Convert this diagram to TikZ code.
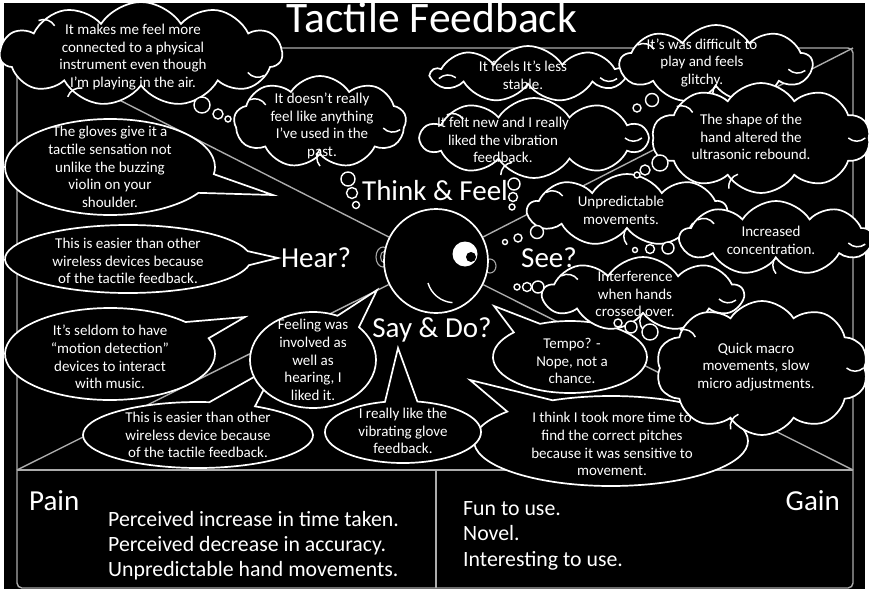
\documentclass[tikz,border=0pt]{standalone}
\usepackage{fontspec}
\setmainfont{Carlito}
\usetikzlibrary{shapes.symbols,shapes.callouts,shapes.geometric,calc}

% short inner curl between two neighbouring puffs of a cloud node
\newcommand\curl[3]{%
  \draw[curlline] ($(#1.puff #2)!0.5!(#1.puff #3)$) to[bend left=40]
    ($($(#1.puff #2)!0.5!(#1.puff #3)$)!17pt!(#1.center)$);}

\begin{document}
\begin{tikzpicture}[x=1pt,y=-1pt,
  frameline/.style={draw=gray!65!white, line width=1.4pt},
  cloudbox/.style={cloud, cloud puffs=#1, cloud puff arc=115, cloud ignores aspect,
    draw=white, fill=black, line width=1.7pt, inner sep=0pt},
  curlline/.style={draw=white, line width=1.5pt},
  talkbox/.style={ellipse callout, callout pointer arc=24, draw=white, fill=black,
    line width=1.7pt, inner sep=0pt},
  puff/.style={circle, draw=white, fill=black, line width=1.4pt, inner sep=0pt},
  bubtext/.style={text=white, align=center, inner sep=0pt,
    font=\fontsize{15}{17.8}\selectfont},
  lab/.style={text=white, inner sep=0pt, font=\fontsize{29}{31}\selectfont},
  listtext/.style={text=white, inner sep=0pt, anchor=base west,
    font=\fontsize{21.8}{25}\selectfont}]

% page
\fill[white] (0,0) rectangle (869,591);
\fill[black] (4,3) rectangle (865,589);
\useasboundingbox (0,0) rectangle (869,591);

% empathy map frame
\coordinate (ctl) at (17,48);
\coordinate (ctr) at (853,48);
\coordinate (cml) at (17,470);
\coordinate (cmr) at (853,470);
\coordinate (cbm) at (436,470);
\coordinate (cbb) at (436,588);
\draw[frameline, rounded corners=5pt] (17,48) rectangle (853,588);
\draw[frameline] (cml) -- (cmr);
\draw[frameline] (cbm) -- (cbb);

% head with ears
\draw[gray!70!white, line width=1.1pt] (383,257) ellipse [x radius=7, y radius=10];
\draw[gray!70!white, line width=1.1pt] (384,257) ellipse [x radius=3.5, y radius=5.5];
\draw[gray!70!white, line width=1.1pt] (490,266) ellipse [x radius=6, y radius=7];
\node[circle, draw=white, fill=black, line width=1.7pt, minimum size=104pt, inner sep=0pt] (head) at (436,261) {};
\draw[frameline] (ctl) -- (head);
\draw[frameline] (ctr) -- (head);
\draw[frameline] (cml) -- (head);
\draw[frameline] (cmr) -- (head);
\node[circle, fill=white, minimum size=25pt, inner sep=0pt] (eye) at (465,254) {};
\node[circle, fill=black, minimum size=10pt, inner sep=0pt] (pupil) at (471,257) {};
\draw[white, line width=1.4pt] (428,283) arc[start angle=163.5, end angle=94, radius=27.5];

% speech bubbles
\node[talkbox, minimum width=210pt, minimum height=96pt, callout absolute pointer={(273,195)}] (e1) at (110,167) {};
\node[talkbox, minimum width=246pt, minimum height=68pt, callout absolute pointer={(278,258)}] (e2) at (128,259) {};
\node[talkbox, minimum width=210pt, minimum height=92pt, callout absolute pointer={(245,317)}] (e3) at (110,354) {};
\node[talkbox, minimum width=230pt, minimum height=66pt, callout absolute pointer={(277,364)}] (e5) at (198,435) {};
\node[talkbox, minimum width=126pt, minimum height=96pt, callout absolute pointer={(377,290)}] (e4) at (313,360) {};
\node[talkbox, minimum width=274pt, minimum height=90pt, callout absolute pointer={(470,380)}] (e8) at (611,441) {};
\node[talkbox, minimum width=156pt, minimum height=62pt, callout absolute pointer={(398,348)}] (e6) at (403,432) {};
\node[talkbox, minimum width=154pt, minimum height=72pt, callout absolute pointer={(494,306)}] (e7) at (570,357) {};

% thought clouds, each with a few inner curls
\node[cloudbox=11, minimum width=282pt, minimum height=104pt] (c1) at (141,54) {};
\curl{c1}{2}{3}\curl{c1}{5}{6}\curl{c1}{8}{9}
\node[cloudbox=9, minimum width=172pt, minimum height=92pt] (c2) at (320,122) {};
\curl{c2}{2}{3}\curl{c2}{5}{6}\curl{c2}{7}{8}
\node[cloudbox=9, minimum width=192pt, minimum height=56pt] (c3) at (528,74) {};
\curl{c3}{3}{4}\curl{c3}{7}{8}
\node[cloudbox=10, minimum width=226pt, minimum height=80pt] (c4) at (534,138) {};
\curl{c4}{2}{3}\curl{c4}{5}{6}\curl{c4}{8}{9}
\node[cloudbox=9, minimum width=192pt, minimum height=78pt] (c5) at (716,64) {};
\curl{c5}{2}{3}\curl{c5}{5}{6}\curl{c5}{7}{8}
\node[cloudbox=10, minimum width=218pt, minimum height=110pt] (c6) at (761,138) {};
\curl{c6}{2}{3}\curl{c6}{5}{6}\curl{c6}{8}{9}
\node[cloudbox=9, minimum width=198pt, minimum height=72pt] (c7) at (627,210) {};
\curl{c7}{2}{3}\curl{c7}{5}{6}\curl{c7}{7}{8}
\node[cloudbox=9, minimum width=192pt, minimum height=74pt] (c8) at (776,238) {};
\curl{c8}{2}{3}\curl{c8}{5}{6}\curl{c8}{7}{8}
\node[cloudbox=9, minimum width=200pt, minimum height=74pt] (c9) at (643,294) {};
\curl{c9}{2}{3}\curl{c9}{5}{6}\curl{c9}{7}{8}
\node[cloudbox=10, minimum width=212pt, minimum height=134pt] (c10) at (762,368) {};
\curl{c10}{2}{3}\curl{c10}{5}{6}\curl{c10}{8}{9}

% trails of little circles
\node[puff, minimum size=16pt] (a1) at (202,105) {};
\node[puff, minimum size=10pt] (a2) at (218,114) {};
\node[puff, minimum size=6pt] (a3) at (228,119) {};
\node[puff, minimum size=14pt] (b1) at (348,179) {};
\node[puff, minimum size=11pt] (b2) at (352,193) {};
\node[puff, minimum size=7pt] (b3) at (356,205) {};
\node[puff, minimum size=12pt] (d1) at (514,184) {};
\node[puff, minimum size=9pt] (d2) at (513,197) {};
\node[puff, minimum size=6pt] (d3) at (512,207) {};
\node[puff, minimum size=13pt] (f1) at (652,100) {};
\node[puff, minimum size=8pt] (f2) at (637,108) {};
\node[puff, minimum size=16pt] (g1) at (660,163) {};
\node[puff, minimum size=10pt] (g2) at (645,170) {};
\node[puff, minimum size=6pt] (g3) at (637,175) {};
\node[puff, minimum size=13pt] (h1) at (537,232) {};
\node[puff, minimum size=8pt] (h2) at (518,238) {};
\node[puff, minimum size=5pt] (h3) at (505,242) {};
\node[puff, minimum size=12pt] (k1) at (668,248) {};
\node[puff, minimum size=9pt] (k2) at (650,249) {};
\node[puff, minimum size=5pt] (k3) at (635,250) {};
\node[puff, minimum size=12pt] (m1) at (538,287) {};
\node[puff, minimum size=9pt] (m2) at (527,287) {};
\node[puff, minimum size=6pt] (m3) at (517,287) {};
\node[puff, minimum size=16pt] (n1) at (650,332) {};
\node[puff, minimum size=12pt] (n2) at (631,327) {};
\node[puff, minimum size=8pt] (n3) at (618,323) {};

% quadrant labels and title
\node[text=white, inner sep=0pt, anchor=base, font=\fontsize{43.5}{45}\selectfont] (title) at (432,33) {Tactile Feedback};
\node[lab, anchor=base] (think) at (435,200) {Think \& Feel};
\node[lab, anchor=base] (hear) at (316,267) {Hear?};
\node[lab, anchor=base] (see) at (549,267) {See?};
\node[lab, anchor=base] (say) at (432,337) {Say \& Do?};

% bubble texts
\node[bubtext] (t1) at (133,57) {It makes me feel more\\connected to a physical\\instrument even though\\I'm playing in the air.};
\node[bubtext] (t2) at (322,126) {It doesn't really\\feel like anything\\I've used in the\\past.};
\node[bubtext] (t3) at (523,75) {It feels It's less\\stable.};
\node[bubtext] (t4) at (503,140) {It felt new and I really\\liked the vibration\\feedback.};
\node[bubtext] (t5) at (702,63) {It's was difficult to\\play and feels\\glitchy.};
\node[bubtext] (t6) at (751,137) {The shape of the\\hand altered the\\ultrasonic rebound.};
\node[bubtext] (t7) at (621,210) {Unpredictable\\movements.};
\node[bubtext] (t8) at (771,240) {Increased\\concentration.};
\node[bubtext] (t9) at (635,294) {Interference\\when hands\\crossed over.};
\node[bubtext] (t10) at (756,367) {Quick macro\\movements, slow\\micro adjustments.};
\node[bubtext] (s1) at (110,167) {The gloves give it a\\tactile sensation not\\unlike the buzzing\\violin on your\\shoulder.};
\node[bubtext] (s2) at (128,261) {This is easier than other\\wireless devices because\\of the tactile feedback.};
\node[bubtext] (s3) at (110,357) {It's seldom to have\\``motion detection''\\devices to interact\\with music.};
\node[bubtext] (s4) at (313,360) {Feeling was\\involved as\\well as\\hearing, I\\liked it.};
\node[bubtext] (s5) at (198,435) {This is easier than other\\wireless device because\\of the tactile feedback.};
\node[bubtext] (s6) at (403,431) {I really like the\\vibrating glove\\feedback.};
\node[bubtext] (s7) at (572,361) {Tempo? -\\Nope, not a\\chance.};
\node[bubtext] (s8) at (612,444) {I think I took more time to\\find the correct pitches\\because it was sensitive to\\movement.};

% pain and gain panels
\node[text=white, inner sep=0pt, anchor=base west, font=\fontsize{29}{31}\selectfont] (pain) at (29,510) {Pain};
\node[text=white, inner sep=0pt, anchor=base east, font=\fontsize{29}{31}\selectfont] (gain) at (840,510) {Gain};
\node[listtext] (p1) at (108,526) {Perceived increase in time taken.};
\node[listtext] (p2) at (108,551) {Perceived decrease in accuracy.};
\node[listtext] (p3) at (108,576) {Unpredictable hand movements.};
\node[listtext] (g1t) at (463,515) {Fun to use.};
\node[listtext] (g2t) at (463,540) {Novel.};
\node[listtext] (g3t) at (463,566) {Interesting to use.};
\end{tikzpicture}
\end{document}
